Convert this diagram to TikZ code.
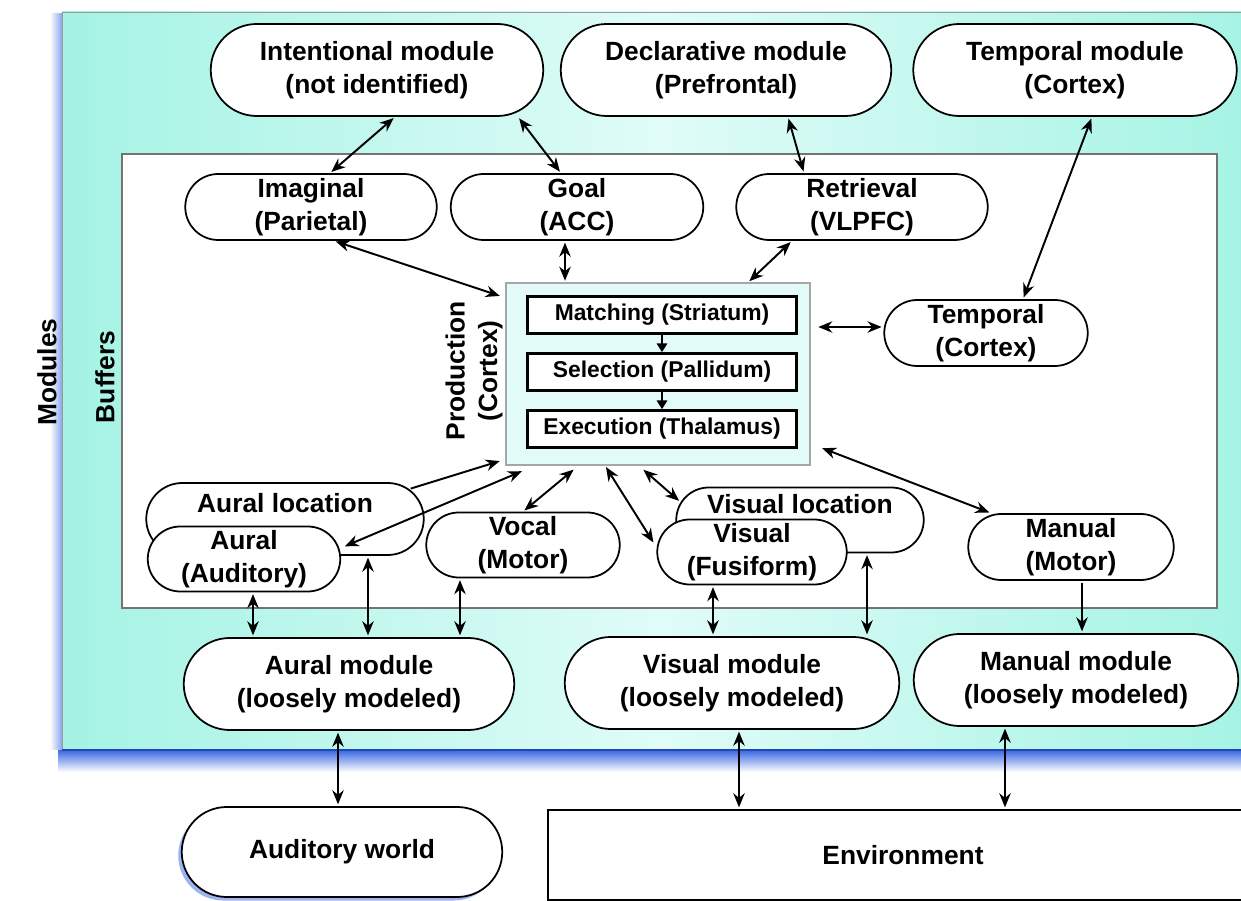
\documentclass[tikz,border=0pt]{standalone}
\usepackage{fontspec}
\setsansfont{Liberation Sans}
\usetikzlibrary{arrows.meta,calc,shapes.misc,shadows}
\definecolor{modcyan}{RGB}{164,243,228}
\definecolor{modpale}{RGB}{224,252,248}
\definecolor{prodfill}{RGB}{226,250,248}
\definecolor{glow}{RGB}{40,90,225}
\tikzset{link/.style={{Stealth[length=8pt,width=6.5pt]}-{Stealth[length=8pt,width=6.5pt]}, line width=1.1pt, shorten <=1pt, shorten >=1pt},
  feed/.style={-{Stealth[length=8pt,width=6.5pt]}, line width=1.1pt, shorten <=1pt, shorten >=1pt},
  mod/.style={rounded rectangle, draw, line width=1pt, fill=white, align=center, inner sep=1pt, minimum height=18.4mm},
  buf/.style={rounded rectangle, draw, line width=1pt, fill=white, align=center, inner sep=1pt, minimum height=13.2mm},
  stage/.style={draw, line width=1.5pt, fill=white, minimum width=53.8mm, minimum height=7.4mm, inner sep=0pt, font=\sffamily\bfseries\fontsize{13}{15}\selectfont}}

\begin{document}
\begin{tikzpicture}[x=0.2mm, y=-0.2mm, font=\sffamily\bfseries\fontsize{15}{18.5}\selectfont]
  \useasboundingbox (0,0) rectangle (1241,901);
  \fill[white] (0,0) rectangle (1241,901);
  % modules panel, with its blue glow
  \shade[top color=glow, bottom color=white] (58,748) rectangle (1260,772);
  \shade[left color=white, right color=glow!55] (50,14) rectangle (62,750);
  \path[draw=black!40, line width=0.5pt, left color=modcyan, right color=modcyan, middle color=modpale] (62,12) rectangle (1260,750);
  \draw[glow!80!black, line width=1.2pt] (62,750) -- (1260,750);
  \node[rotate=90] (modlbl) at (47,372) {Modules};
  % buffers panel
  \draw[draw=black!55, fill=white, line width=0.6pt] (122,154) rectangle (1217,608);
  \node[rotate=90] (buflbl) at (105,377) {Buffers};
  % modules, top row
  \node[mod, minimum width=67.2mm] (intent) at (377,70) {Intentional module\\(not identified)};
  \node[mod, minimum width=66.8mm] (decl) at (726,70) {Declarative module\\(Prefrontal)};
  \node[mod, minimum width=65.4mm] (tempmod) at (1075,70) {Temporal module\\(Cortex)};
  % buffers, top row
  \node[buf, minimum width=51mm] (imag) at (311,207) {Imaginal\\(Parietal)};
  \node[buf, minimum width=51.2mm] (goal) at (577,207) {Goal\\(ACC)};
  \node[buf, minimum width=51mm] (retr) at (862,207) {Retrieval\\(VLPFC)};
  \node[buf, minimum width=41.4mm] (tempbuf) at (986,333) {Temporal\\(Cortex)};
  % production system
  \node[draw=black!35, fill=prodfill, line width=0.6pt, minimum width=60.8mm, minimum height=36.4mm] (prod) at (658,374) {};
  \node[stage] (match) at (662,315) {Matching (Striatum)};
  \node[stage] (select) at (662,372) {Selection (Pallidum)};
  \node[stage] (exec) at (662,429) {Execution (Thalamus)};
  \node[rotate=90, align=center] (prodlbl) at (474,371) {Production\\(Cortex)};
  \draw[-{Triangle[length=5pt,width=6pt]}, line width=0.8pt] (match) -- (select);
  \draw[-{Triangle[length=5pt,width=6pt]}, line width=0.8pt] (select) -- (exec);
  % buffers, bottom row
  \node[buf, minimum width=56.2mm, minimum height=14.4mm] (auralloc) at (285,519) {Aural location\\\mbox{}};
  \node[buf, minimum width=39.2mm, minimum height=13mm] (aural) at (244,559) {Aural\\(Auditory)};
  \node[buf, minimum width=39.4mm, minimum height=13mm] (vocal) at (523,545) {Vocal\\(Motor)};
  \node[buf, minimum width=50.2mm, minimum height=13mm] (visloc) at (800,520) {Visual location\\\mbox{}};
  \node[buf, minimum width=38.6mm, minimum height=13mm] (vis) at (752,552) {Visual\\(Fusiform)};
  \node[buf, minimum width=41.8mm] (manual) at (1071,547) {Manual\\(Motor)};
  % modules, bottom row
  \node[mod, minimum width=66.8mm] (auralmod) at (349,684) {Aural module\\(loosely modeled)};
  \node[mod, minimum width=67.6mm] (vismod) at (732,683) {Visual module\\(loosely modeled)};
  \node[mod, minimum width=65.6mm] (manmod) at (1076,680) {Manual module\\(loosely modeled)};
  % outside world
  \node[mod, minimum width=64.8mm, minimum height=18mm,
    drop shadow={shadow xshift=-2pt, shadow yshift=-2pt, fill=glow, opacity=0.45}] (audworld) at (342,852) {Auditory world};
  \node[draw, line width=1pt, fill=white, minimum width=142mm, minimum height=18mm] (env) at (903,855) {Environment};
  % module <-> buffer
  \draw[link] ($(intent.south)+(18,0)$) -- ($(imag.north)+(19,0)$);
  \draw[link] ($(intent.south)+(141,0)$) -- ($(goal.north)+(-16,0)$);
  \draw[link] ($(decl.south)+(62,0)$) -- ($(retr.north)+(-58,0)$);
  \draw[link] ($(tempmod.south)+(17,0)$) -- ($(tempbuf.north)+(37,0)$);
  % buffer <-> production
  \draw[link] ($(imag.south)+(23,0)$) -- ($(prod.north west)+(-4,14)$);
  \draw[link] ($(goal.south)+(-12,0)$) -- ($(prod.north)+(-93,0)$);
  \draw[link] ($(retr.south)+(-70,0)$) -- ($(prod.north)+(90,0)$);
  \draw[link] ($(prod.east)+(6,-47)$) -- ($(tempbuf.west)+(0,-6)$);
  \draw[link] ($(prod.south east)+(10,-18)$) -- ($(manual.north)+(-80,0)$);
  \draw[feed] ($(auralloc.north)+(124,7)$) -- ($(prod.south west)+(-4,-5)$);
  \draw[link] ($(prod.south west)+(18,5)$) -- ($(aural.east)+(2,-12)$);
  \draw[link] (vocal.north) -- ($(prod.south)+(-83,3)$);
  \draw[link] ($(prod.south)+(-53,0)$) -- ($(vis.west)+(-2,-8)$);
  \draw[link] ($(prod.south)+(-16,3)$) -- ($(visloc.west)+(5,-18)$);
  % buffer <-> module
  \draw[link] ($(aural.south)+(9,0)$) -- ($(auralmod.north)+(-96,0)$);
  \draw[link] ($(auralloc.south)+(83,0)$) -- ($(auralmod.north)+(19,0)$);
  \draw[link] ($(vocal.south)+(-63,0)$) -- ($(auralmod.north)+(111,0)$);
  \draw[link] ($(vis.south)+(-39,0)$) -- ($(vismod.north)+(-19,0)$);
  \draw[link] ($(visloc.south)+(67,0)$) -- ($(vismod.north)+(135,0)$);
  \draw[feed] ($(manual.south)+(11,0)$) -- ($(manmod.north)+(6,0)$);
  % module <-> world
  \draw[link] ($(auralmod.south)+(-11,0)$) -- ($(audworld.north)+(-4,0)$);
  \draw[link] ($(vismod.south)+(7,0)$) -- ($(env.north)+(-164,0)$);
  \draw[link] ($(manmod.south)+(-71,0)$) -- ($(env.north)+(102,0)$);
\end{tikzpicture}
\end{document}
